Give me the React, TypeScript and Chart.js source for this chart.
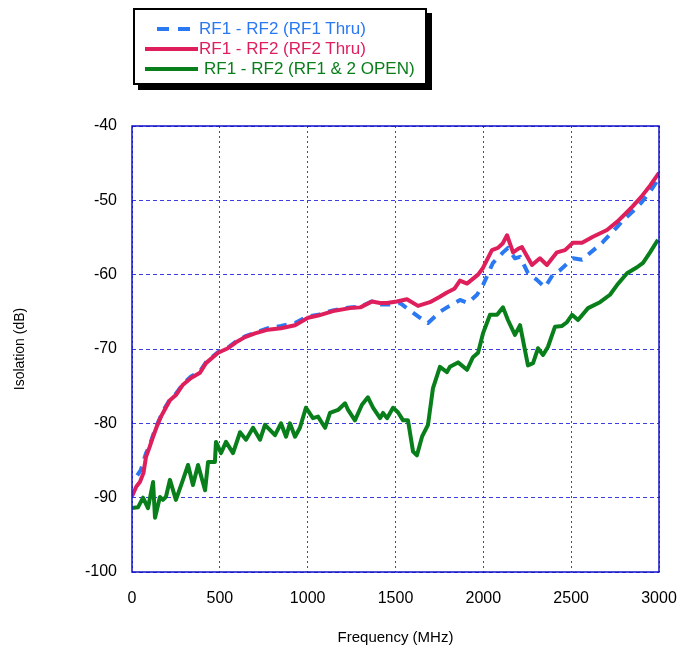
import React, { useEffect, useRef } from "react";
import { Chart, registerables } from "chart.js";

Chart.register(...registerables);

// RF2 Thru (solid red)
const rf2Freq = [
  0, 25, 45, 65, 80, 100, 120, 140, 165, 190, 216, 250, 290, 336, 387, 421, 490, 546, 592, 643,
  700, 774, 848, 928, 1002, 1060, 1144, 1241, 1300, 1366, 1412, 1450, 1508, 1565, 1628, 1696,
  1750, 1793, 1835, 1867, 1907, 1970, 1998, 2049, 2083, 2110, 2135, 2169, 2200, 2220, 2277,
  2322, 2362, 2419, 2465, 2510, 2562, 2624, 2704, 2761, 2800, 2850, 2900, 2950, 3000,
];
const rf2Iso = [
  -89.8, -88.5, -87.9, -86.7, -84.5, -83.2, -81.8, -80.5, -79.1, -78.0, -76.9, -76.2, -74.8,
  -73.9, -73.2, -71.9, -70.5, -69.9, -69.1, -68.4, -67.9, -67.4, -67.2, -66.8, -65.8, -65.5,
  -64.9, -64.5, -64.4, -63.6, -63.8, -63.8, -63.6, -63.3, -64.2, -63.7, -63.0, -62.4, -61.9,
  -60.8, -61.2, -60.0, -59.1, -56.7, -56.4, -55.8, -54.7, -57.0, -56.5, -56.3, -58.7, -57.8,
  -58.7, -57.0, -56.7, -55.7, -55.7, -54.9, -54.0, -52.9, -52.0, -50.8, -49.5, -48.0, -46.3,
];

// RF1 Thru (dashed blue)
const rf1Freq = [
  30, 50, 80, 100, 120, 140, 165, 190, 216, 250, 290, 336, 387, 421, 490, 546, 592, 643, 700,
  774, 848, 928, 1002, 1060, 1144, 1241, 1300, 1366, 1412, 1470, 1525, 1582, 1640, 1685, 1753,
  1793, 1867, 1913, 1964, 1998, 2055, 2112, 2140, 2180, 2209, 2254, 2305, 2351, 2396, 2436,
  2510, 2562, 2647, 2681, 2761, 2795, 2850, 2900, 2950, 3000,
];
const rf1Iso = [
  -87.0, -86.3, -84.0, -83.0, -81.6, -80.3, -79.0, -77.8, -76.8, -76.0, -74.7, -73.7, -73.0,
  -71.8, -70.4, -69.8, -69.0, -68.3, -67.8, -67.2, -66.9, -66.5, -65.6, -65.4, -64.8, -64.4,
  -64.3, -63.6, -64.0, -64.0, -63.8, -64.8, -65.8, -66.5, -65.0, -64.4, -63.4, -63.8, -62.7,
  -61.4, -58.4, -57.0, -56.4, -57.8, -57.6, -59.8, -60.7, -61.7, -60.0, -59.4, -57.8, -58.0,
  -56.3, -55.6, -53.6, -52.7, -51.5, -50.3, -48.8, -47.0,
];

// RF1 & 2 OPEN (solid green)
const openFreq = [
  0, 34, 63, 91, 120, 131, 159, 176, 193, 216, 250, 290, 319, 347, 376, 416, 433, 472, 478, 507,
  535, 575, 615, 649, 689, 729, 757, 814, 848, 877, 899, 928, 956, 990, 1030, 1059, 1099, 1127,
  1173, 1213, 1230, 1269, 1309, 1343, 1372, 1412, 1429, 1452, 1486, 1514, 1543, 1571, 1600,
  1622, 1651, 1685, 1713, 1753, 1793, 1810, 1856, 1907, 1941, 1970, 1998, 2038, 2078, 2112,
  2140, 2180, 2209, 2254, 2283, 2311, 2340, 2368, 2408, 2448, 2476, 2505, 2539, 2596, 2664,
  2721, 2761, 2818, 2875, 2909, 2949, 2994,
];
const openIso = [
  -91.4, -91.3, -90.0, -91.4, -87.9, -92.7, -89.9, -90.3, -89.9, -87.6, -90.3, -87.6, -85.6,
  -88.3, -85.6, -89.0, -85.2, -85.2, -82.5, -84.0, -82.5, -84.0, -81.2, -82.2, -80.6, -82.2,
  -80.2, -81.6, -80.0, -81.8, -80.0, -81.8, -80.6, -77.9, -79.3, -79.1, -80.6, -78.6, -78.2,
  -77.3, -78.2, -79.6, -77.5, -76.5, -77.9, -79.3, -78.6, -79.3, -77.9, -78.5, -79.6, -79.6,
  -83.8, -84.3, -81.8, -80.2, -75.3, -72.4, -73.1, -72.4, -71.8, -72.8, -71.1, -70.5, -67.9,
  -65.4, -65.4, -64.4, -66.1, -68.1, -66.8, -72.2, -71.9, -69.9, -70.8, -69.7, -67.0, -66.9,
  -66.4, -65.4, -66.1, -64.5, -63.7, -62.7, -61.4, -59.8, -59.0, -58.4, -57.0, -55.3,
];

const xTicks = [0, 500, 1000, 1500, 2000, 2500, 3000];
const yTicks = [-100, -90, -80, -70, -60, -50, -40];

const BLUE = "#2a78f2";
const RED = "#de1f5c";
const GREEN = "#087f1a";
const GRID = "rgba(40,40,225,0.9)";
const FONT = "'Liberation Sans', Arial, sans-serif";

const toPoints = (xs: number[], ys: number[]) => xs.map((x, i) => ({ x, y: ys[i] }));

// blue frame round the plot area
const framePlugin = {
  id: "frame",
  afterDraw(chart: any) {
    const { ctx, chartArea } = chart;
    ctx.save();
    ctx.strokeStyle = "#1010c8";
    ctx.lineWidth = 1.5;
    ctx.strokeRect(chartArea.left, chartArea.top, chartArea.right - chartArea.left, chartArea.bottom - chartArea.top);
    ctx.restore();
  },
};

const Legend = () => {
  const rows = [
    { label: "RF1 - RF2 (RF1 Thru)", color: BLUE, dash: "12 9", x1: 22, x2: 60, tx: 64 },
    { label: "RF1 - RF2 (RF2 Thru)", color: RED, dash: "", x1: 10, x2: 63, tx: 64 },
    { label: "RF1 - RF2 (RF1 & 2 OPEN)", color: GREEN, dash: "", x1: 10, x2: 63, tx: 69 },
  ];
  return (
    <div
      style={{
        position: "absolute",
        left: 125,
        top: 0,
        width: 290,
        height: 73,
        border: "2px solid #000",
        boxShadow: "5px 5px 0 #000",
        background: "#fff",
        fontFamily: FONT,
        fontSize: 17,
        lineHeight: "20px",
      }}
    >
      {rows.map((r, i) => (
        <div key={i} style={{ position: "absolute", left: 0, top: 9 + i * 20, height: 20, width: 290 }}>
          <svg width={70} height={20} style={{ position: "absolute", left: 0, top: 0 }}>
            <line x1={r.x1} y1={10} x2={r.x2} y2={10} stroke={r.color} strokeWidth={4} strokeDasharray={r.dash || undefined} />
          </svg>
          <span style={{ position: "absolute", left: r.tx, top: 0, color: r.color, whiteSpace: "nowrap" }}>{r.label}</span>
        </div>
      ))}
    </div>
  );
};

const App = () => {
  const canvas = useRef<HTMLCanvasElement>(null);

  useEffect(() => {
    const chart = new Chart(canvas.current!, {
      type: "line",
      data: {
        datasets: [
          {
            label: "RF1 - RF2 (RF2 Thru)",
            data: toPoints(rf2Freq, rf2Iso),
            borderColor: RED,
            borderWidth: 4,
            order: 0,
          },
          {
            label: "RF1 - RF2 (RF1 Thru)",
            data: toPoints(rf1Freq, rf1Iso),
            borderColor: BLUE,
            borderWidth: 4,
            borderDash: [10, 8],
            order: 1,
          },
          {
            label: "RF1 - RF2 (RF1 & 2 OPEN)",
            data: toPoints(openFreq, openIso),
            borderColor: GREEN,
            borderWidth: 4,
            order: 2,
          },
        ],
      },
      options: {
        responsive: false,
        animation: false,
        elements: { point: { radius: 0 }, line: { tension: 0, borderJoinStyle: "round" } },
        layout: { padding: { top: 118, right: 29, left: 0, bottom: 0 } },
        plugins: { legend: { display: false }, tooltip: { enabled: false } },
        scales: {
          x: {
            type: "linear",
            min: 0,
            max: 3000,
            afterFit: (s: any) => {
              s.height = 78;
              s.paddingLeft = 0;
              s.paddingRight = 0;
            },
            afterBuildTicks: (s: any) => {
              s.ticks = xTicks.map((v) => ({ value: v }));
            },
            ticks: {
              padding: 17,
              color: "#000",
              font: { family: FONT, size: 16 },
              maxRotation: 0,
              callback: (v: any) => String(v),
            },
            grid: { color: GRID, lineWidth: 1, drawTicks: false },
            border: { display: false, dash: [2, 3] },
            title: {
              display: true,
              text: "Frequency (MHz)",
              color: "#000",
              font: { family: FONT, size: 15 },
              padding: { top: 0, bottom: 3 },
            },
          },
          y: {
            min: -100,
            max: -40,
            afterFit: (s: any) => {
              s.width = 124;
              s.paddingTop = 0;
              s.paddingBottom = 0;
            },
            afterBuildTicks: (s: any) => {
              s.ticks = yTicks.map((v) => ({ value: v }));
            },
            ticks: { padding: 15, color: "#000", font: { family: FONT, size: 16 } },
            grid: { color: GRID, lineWidth: 1, drawTicks: false },
            border: { display: false, dash: [4, 3] },
            title: {
              display: true,
              text: "Isolation (dB)",
              color: "#000",
              font: { family: FONT, size: 14 },
              padding: { top: 4, bottom: 0 },
            },
          },
        },
      },
      plugins: [framePlugin],
    });

    return () => {
      chart.destroy();
    };
  }, []);

  return (
    <div style={{ position: "relative", width: 680, height: 642 }}>
      <canvas ref={canvas} width={680} height={642} />
      <Legend />
    </div>
  );
};

export default App;
